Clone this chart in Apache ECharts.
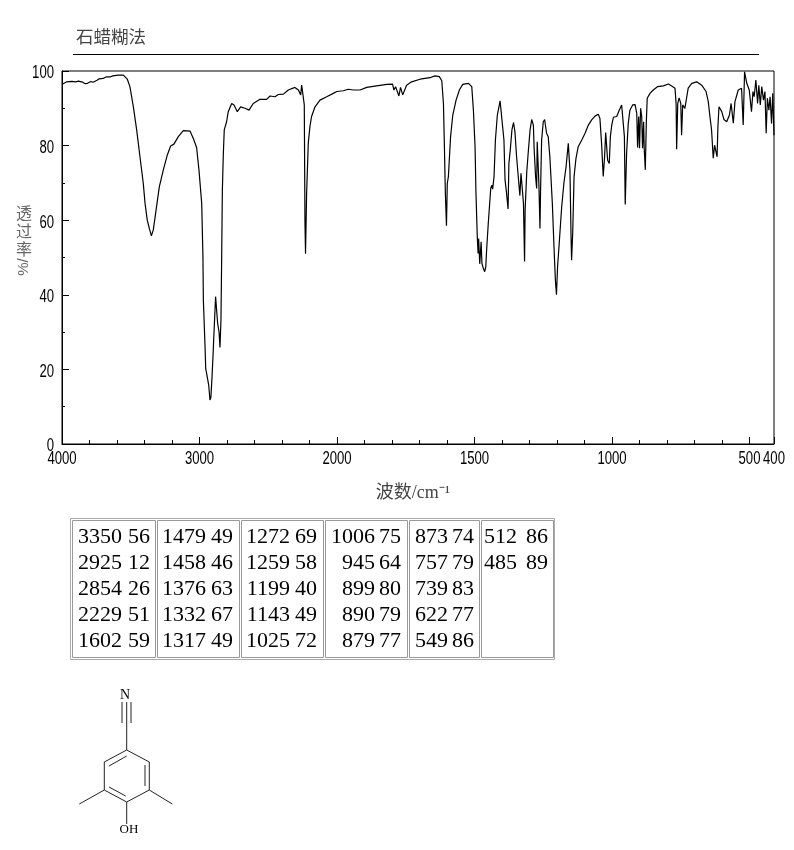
<!DOCTYPE html>
<html><head><meta charset="utf-8">
<style>html,body{margin:0;padding:0;background:#fff}#c{width:794px;height:850px}</style>
<script src="https://cdn.jsdelivr.net/npm/echarts@6/dist/echarts.min.js"></script>
</head><body><div id="c"></div>
<script>
const spectrumWave = [3995,3966,3930,3900,3881,3870,3850,3830,3815,3790,3775,3765,3745,3730,3700,3680,3651,3630,3590,3554,3525,3506,3481,3457,3433,3409,3396,3380,3365,3350,3336,3316,3292,3263,3234,3210,3186,3154,3118,3069,3045,3021,3004,2984,2975,2972,2960,2955,2943,2933,2924,2917,2909,2902,2897,2890,2883,2875,2868,2858,2851,2844,2839,2834,2827,2820,2803,2791,2766,2749,2725,2701,2669,2640,2609,2560,2512,2487,2451,2427,2390,2354,2306,2294,2281,2264,2257,2252,2245,2238,2233,2229,2221,2209,2197,2185,2172,2160,2124,2075,2027,2001,1977,1959,1941,1916,1892,1856,1819,1798,1793,1787,1775,1769,1761,1754,1747,1729,1698,1662,1644,1628,1619,1613,1610,1606,1602,1599,1595,1592,1587,1579,1567,1555,1543,1522,1510,1504,1498,1495,1490,1487,1485,1481,1476,1473,1468,1463,1459,1456,1450,1441,1437,1434,1429,1424,1417,1407,1400,1393,1389,1384,1378,1375,1370,1364,1358,1353,1347,1341,1335,1331,1326,1322,1318,1316,1310,1304,1298,1292,1286,1283,1278,1274,1272,1268,1266,1262,1260,1256,1250,1245,1238,1232,1226,1217,1211,1206,1202,1198,1192,1183,1175,1167,1159,1155,1153,1149,1147,1143,1138,1131,1123,1110,1098,1086,1074,1062,1050,1044,1038,1032,1027,1023,1019,1016,1010,1006,1001,995,983,973,965,959,955,952,947,941,935,925,916,910,907,903,900,896,892,889,885,883,879,875,872,862,850,835,813,795,783,771,767,765,761,756,750,747,743,735,729,723,710,692,674,658,650,644,638,632,627,623,618,615,611,601,593,583,573,567,559,553,547,541,529,523,518,510,501,492,486,481,474,467,462,456,450,443,437,432,427,421,416,410,405,400];
const spectrumT = [96.5,97.1,97.2,97.1,97.3,96.9,97.0,96.6,96.7,97.2,97.0,97.5,97.5,97.9,98.0,98.4,98.4,98.7,98.9,98.9,97.8,95.8,90.4,84.2,77.0,69.9,64.5,60.0,57.8,55.8,57.4,62.7,69.0,73.5,77.5,79.9,80.4,82.4,84.0,83.9,81.9,79.5,73.5,64.5,50.2,38.6,26.5,20.3,20.7,15.8,11.8,12.5,18.0,23.4,27.9,33.7,39.5,39.5,32.3,30.1,25.9,33.2,49.3,67.7,77.5,84.2,86.4,89.1,91.3,90.9,89.1,90.4,90.0,89.5,91.3,92.4,92.4,93.3,93.1,93.7,93.8,94.9,95.6,96.0,94.9,93.6,96.2,96.5,96.2,90.9,59.2,51,67.2,80.6,85.1,87.8,88.2,90.4,92.2,93.1,94.0,94.5,94.7,95.1,94.9,94.9,95.6,96.0,96.4,96.5,94.9,95.8,93.3,95.6,93.6,93.6,96.2,97.1,97.8,98.2,98.7,98.5,97.4,91.3,81.5,67.2,58.5,69.9,71.7,72.1,82.4,88.2,92.2,94.9,96.4,96.7,95.8,89.5,79.7,68.1,55.6,51.1,55.1,48.3,54.2,48.4,47.1,46.2,47.5,52,59.1,68.5,69.4,68.3,71.7,81.5,88.2,92.0,92.0,81.5,70.8,67.6,63,75.2,78.8,84.2,86.2,83.7,77,71.7,66.6,72.6,72.6,64.5,48.9,62.7,73,78.8,84.2,87,85.5,78.8,71.7,68.5,81,81.5,70,57.8,67.2,81.5,86.4,87,83.3,82.4,77,64.5,52.9,44,40,47.5,53.8,63.6,69.9,74.4,80.6,80.6,73.4,55.6,49.3,56.5,71.7,76.6,79.7,81.5,83.3,85.5,86.9,87.9,88.4,87.3,80.6,71.7,77,83.5,83.5,76.1,75.2,82.4,85.5,87.6,87.8,89.6,90.9,90.4,82.4,64.2,77.9,85.9,89.5,90.9,91,88.6,79.5,87.8,79.3,90,87.8,79.3,86.4,79.3,73.5,86.9,92.7,94,94.9,95.8,96,96.5,96,95.4,91.3,79,91.3,92.8,91.3,82.8,90.9,90,92.7,95.4,96.7,97.1,96.2,94.5,91.8,87.8,84.2,76.6,80.1,80.6,77,85,90.4,89.1,87,86.4,88.2,91.3,86,91.8,91.3,94.9,95.4,85.5,99.8,96.7,94.9,89.1,94.5,93.1,97.6,91.3,96.2,90.9,95.8,92.2,94.5,83.3,92.7,89.5,93.1,85.9,94,82.8];
const tickWaves = [4000,3000,2000,1500,1000,500,400];
const minorWaves = [3800,3600,3400,3200,2800,2600,2400,2200,1900,1800,1700,1600,1400,1300,1200,1100,900,800,700,600];
const yTicks = [0,20,40,60,80,100];
const peakWave = ['3350','2925','2854','2229','1602','1479','1458','1376','1332','1317','1272','1259','1199','1143','1025','1006','945','899','890','879','873','757','739','622','549','512','485'];
const peakValue = ['56','12','26','51','59','49','46','63','67','49','69','58','40','49','72','75','64','80','79','77','74','79','83','77','86','86','89'];
const titleText = '石蜡糊法';
const xName = '波数/cm⁻¹';

// The spectrum's wavenumber axis is piecewise: the scale doubles below 2000 and the plot stops just short at 400.
const pos = w => w >= 2000 ? (4000 - w) / 2 : w >= 500 ? 1000 + (2000 - w) : 2500 + (500 - w) * 0.89;
const tickPos = tickWaves.map(pos);
const maxPos = pos(400);

const SERIF = '"Liberation Serif","Noto Sans CJK SC",serif';
const SANS = '"Liberation Sans",sans-serif';
const CJK = '"Noto Sans CJK SC",sans-serif';

const g = [];
const line = (x1,y1,x2,y2,color='#000',w=1) => g.push({type:'line',shape:{x1,y1,x2,y2},style:{stroke:color,lineWidth:w},silent:true});
const text = (t,x,y,o={}) => g.push({type:'text',x,y,scaleX:o.scaleX||1,rotation:o.rotation||0,style:{text:t,fill:o.fill||'#000',font:o.font,textAlign:o.align||'left',textVerticalAlign:'middle'},silent:true});

// Header
text(titleText,76,36,{font:'17.5px '+CJK,fill:'#444'});
line(73,54.5,759,54.5);

// Y-axis title, stacked
text('透',24,213,{font:'16px '+CJK,fill:'#666',align:'center'});
text('过',24,231,{font:'16px '+CJK,fill:'#666',align:'center'});
text('率',24,249,{font:'16px '+CJK,fill:'#666',align:'center'});
text('%/',24,267,{font:'15px '+SANS,fill:'#666',align:'center',rotation:Math.PI/2});

// Peak table
const colRects = [[72,155],[157,239],[241,323],[325,407],[409,479],[481,553]];
const waveRight = [122,206,290,375,448,517];
const valueRight = [150,233,317,401,474,548];
const rowY = [537,563,589,615,641];
const box = (x,y,w,h,c) => g.push({type:'rect',shape:{x,y,width:w,height:h},style:{fill:'none',stroke:c,lineWidth:1},silent:true});
box(70.5,518.5,484,141,'#aaa');
colRects.forEach(([a,b]) => box(a+.5,520.5,b-a,137,'#999'));
peakWave.forEach((w,i) => {
  const col = Math.floor(i/5), row = i%5;
  text(w,waveRight[col],rowY[row],{font:'22px '+SERIF,align:'right'});
  text(peakValue[i],valueRight[col],rowY[row],{font:'22px '+SERIF,align:'right'});
});

// Structure drawing
[[122,702,122,723],[126.7,702,126.7,723],[131,702,131,723],
 [126.7,723,126.7,750],[126.7,750,149.3,762],[149.3,762,149.3,790],[149.3,790,126.7,802],
 [126.7,802,104.3,790],[104.3,790,104.3,762],[104.3,762,126.7,750],
 [126.7,756,109,766],[145,765,145,786],[109,787,125.7,796],
 [104.3,790,79.3,804],[149.3,790,172.3,804],[126.7,802,126.7,824]
].forEach(s => line(...s,'#222',1));
text('N',125,695,{font:'14px '+SERIF,align:'center'});
text('OH',129,830,{font:'13px '+SERIF,align:'center'});

const chart = echarts.init(document.getElementById('c'));
chart.setOption({
  animation:false,
  backgroundColor:'#fff',
  grid:{left:62,top:71,right:20,bottom:406,show:true,borderColor:'#000',borderWidth:1,backgroundColor:'transparent'},
  xAxis:[{
    type:'value',min:0,max:maxPos,splitLine:{show:false},
    name:xName,nameLocation:'middle',nameGap:40,
    nameTextStyle:{fontFamily:SERIF,fontSize:18,color:'#444',padding:[0,10,0,0]},
    axisLine:{show:true,lineStyle:{color:'#000'}},
    axisTick:{show:true,inside:true,length:7,lineStyle:{color:'#000'},customValues:tickPos},
    axisLabel:{show:false}
  },{
    type:'value',min:0,max:maxPos,position:'bottom',splitLine:{show:false},
    axisLine:{show:false},axisLabel:{show:false},
    axisTick:{show:true,inside:true,length:4,lineStyle:{color:'#000'},customValues:minorWaves.map(pos)}
  }],
  yAxis:{
    type:'value',min:0,max:100,interval:20,splitLine:{show:false},
    axisLine:{show:true,lineStyle:{color:'#000'}},
    axisTick:{show:true,inside:true,length:7,lineStyle:{color:'#000'}},
    minorTick:{show:true,splitNumber:2,length:3,lineStyle:{color:'#000'}},
    axisLabel:{show:false}
  },
  series:[{
    type:'line',showSymbol:false,clip:true,
    lineStyle:{color:'#000',width:1.2},
    data:spectrumWave.map((w,i)=>[pos(w),spectrumT[i]])
  }]
});

// Tick labels are condensed in the original, so they are drawn as scaled text placed by the axes' own scales.
const tickFont = '18px '+SANS;
tickWaves.forEach(w => {
  const x = chart.convertToPixel({xAxisIndex:0},pos(w));
  text(String(w),x,459,{font:tickFont,align:'center',scaleX:0.73});
});
yTicks.forEach(v => {
  const y = chart.convertToPixel({yAxisIndex:0},v);
  text(String(v),54,y+2.5,{font:tickFont,align:'right',scaleX:0.73});
});
chart.setOption({graphic:g});
</script></body></html>
